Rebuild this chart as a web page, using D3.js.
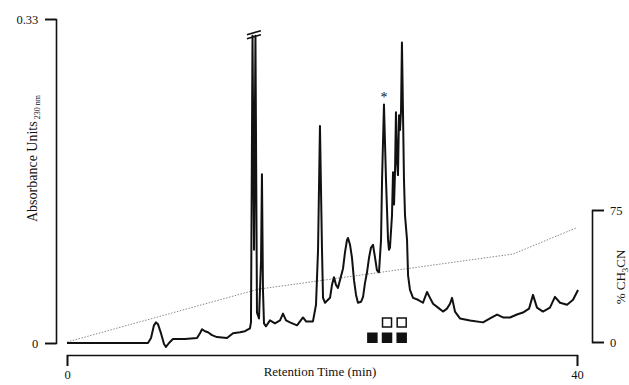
<!DOCTYPE html>
<html lang='en'>
<head>
  <title>RP-HPLC Chromatogram</title>
  <script src='https://cdn.jsdelivr.net/npm/d3@7/dist/d3.min.js'></script>
  <style>
    body { margin: 0; background: #fff; }
    text { font-family: "Liberation Serif", "DejaVu Serif", serif; fill: #111; }
  </style>
</head>
<body>
  <script>
    // retention time (min) and absorbance (AU at 230 nm)
    let times = [0, 6.35, 6.59, 6.82, 6.98, 7.14, 7.37, 7.61, 7.76, 8.0, 8.31, 9.25, 10.2, 10.43, 10.59, 10.82,
      11.06, 11.37, 11.76, 12.55, 13.02, 13.57, 13.96, 14.35, 14.43, 14.55, 14.67, 14.78, 14.9, 15.06, 15.22,
      15.29, 15.37, 15.45, 15.61, 15.92, 16.31, 16.71, 16.94, 17.18, 17.49, 18.04, 18.51, 18.75, 19.29, 19.53,
      19.69, 19.84, 20.0, 20.08, 20.24, 20.47, 20.63, 20.78, 20.94, 21.1, 21.25, 21.49, 21.65, 21.8, 21.96,
      22.04, 22.2, 22.35, 22.51, 22.67, 22.82, 23.06, 23.22, 23.37, 23.53, 23.69, 23.84, 24.0, 24.16, 24.31,
      24.47, 24.63, 24.71, 24.86, 25.02, 25.18, 25.25, 25.33, 25.49, 25.57, 25.65, 25.73, 25.8, 25.88, 25.96,
      26.04, 26.12, 26.2, 26.27, 26.35, 26.43, 26.51, 26.67, 26.75, 26.9, 27.14, 27.53, 27.92, 28.24, 28.47,
      28.71, 29.1, 29.49, 29.8, 30.04, 30.2, 30.43, 30.82, 31.61, 32.63, 33.18, 33.73, 34.2, 34.75, 35.29,
      35.76, 36.24, 36.55, 36.86, 37.33, 37.88, 38.27, 38.67, 39.22, 39.69, 40.08];
    let absorbance = [0, 0, 0.005, 0.018, 0.021, 0.019, 0.010, -0.001, -0.004, 0, 0.004, 0.004, 0.005, 0.010, 0.014, 0.012,
      0.011, 0.008, 0.006, 0.005, 0.010, 0.011, 0.012, 0.015, 0.021, 0.313, 0.095, 0.313, 0.031, 0.025, 0.085,
      0.172, 0.054, 0.020, 0.017, 0.023, 0.020, 0.023, 0.030, 0.023, 0.021, 0.018, 0.026, 0.022, 0.022, 0.039,
      0.095, 0.221, 0.095, 0.046, 0.041, 0.044, 0.046, 0.059, 0.067, 0.059, 0.056, 0.068, 0.076, 0.092, 0.105,
      0.107, 0.100, 0.087, 0.064, 0.049, 0.041, 0.042, 0.047, 0.061, 0.072, 0.087, 0.097, 0.100, 0.087, 0.074,
      0.072, 0.105, 0.166, 0.243, 0.166, 0.105, 0.095, 0.097, 0.130, 0.174, 0.141, 0.176, 0.235, 0.186, 0.171,
      0.232, 0.217, 0.237, 0.306, 0.237, 0.166, 0.130, 0.105, 0.069, 0.054, 0.046, 0.044, 0.041, 0.052, 0.046,
      0.040, 0.036, 0.032, 0.035, 0.040, 0.046, 0.032, 0.025, 0.023, 0.021, 0.025, 0.029, 0.026, 0.026, 0.029,
      0.031, 0.035, 0.049, 0.036, 0.032, 0.036, 0.047, 0.041, 0.039, 0.044, 0.054];

    // acetonitrile gradient (dotted line, right axis)
    let gradientTimes = [0, 15, 35, 40];
    let gradientPct = [0, 30, 50, 65];

    // axis ticks
    let xTicks = [0, 40];
    let yTicks = [0, 0.33];
    let pctTicks = [0, 75];

    // fraction markers under the main peaks
    let filledMarkers = [23.95, 25.1, 26.25];
    let openMarkers = [25.1, 26.25];
    let starPeak = { time: 24.86, value: 0.243 };
    let brokenPeak = { time: 14.66, value: 0.313 };

    createChromatogram();

    function createChromatogram() {
      let svg = d3.select("body").append("svg")
        .attr("width", 629)
        .attr("height", 385);

      let xScale = d3.scaleLinear().domain([0, 40]).range([67, 577]);
      let yScale = d3.scaleLinear().domain([0, 0.33]).range([343, 19]);
      let pctScale = d3.scaleLinear().domain([0, 75]).range([342, 210]);

      let trace = times.map((t, i) => ({ t: t, a: absorbance[i] }));
      let gradient = gradientTimes.map((t, i) => ({ t: t, p: gradientPct[i] }));

      // gradient line
      svg.append("path")
        .attr("d", d3.line().x(d => xScale(d.t)).y(d => pctScale(d.p))(gradient))
        .attr("fill", "none")
        .attr("stroke", "#8a8a8a")
        .attr("stroke-width", 1)
        .attr("stroke-dasharray", "1.5,1.5");

      // chromatogram trace
      svg.append("path")
        .attr("d", d3.line().x(d => xScale(d.t)).y(d => yScale(d.a))(trace))
        .attr("fill", "none")
        .attr("stroke", "#111")
        .attr("stroke-width", 2)
        .attr("stroke-linejoin", "round");

      // break mark on the off-scale peak
      let bx = xScale(brokenPeak.time), by = yScale(brokenPeak.value);
      [-3, 1].forEach(dy => {
        svg.append("line")
          .attr("x1", bx - 7).attr("y1", by + dy + 2)
          .attr("x2", bx + 7).attr("y2", by + dy - 2)
          .attr("stroke", "#111").attr("stroke-width", 1.6);
      });

      // asterisk over the marked peak
      svg.append("text")
        .attr("x", xScale(starPeak.time))
        .attr("y", yScale(starPeak.value) - 2)
        .attr("text-anchor", "middle")
        .attr("font-size", 14)
        .text("*");

      // markers
      let size = 10.5;
      svg.selectAll(".filled").data(filledMarkers).join("rect")
        .attr("class", "filled")
        .attr("x", d => xScale(d) - size / 2)
        .attr("y", 332.5)
        .attr("width", size).attr("height", size)
        .attr("fill", "#111");
      svg.selectAll(".open").data(openMarkers).join("rect")
        .attr("class", "open")
        .attr("x", d => xScale(d) - size / 2 + 0.75)
        .attr("y", 318)
        .attr("width", size - 1.5).attr("height", size - 1.5)
        .attr("fill", "#fff")
        .attr("stroke", "#111")
        .attr("stroke-width", 1.5);

      // left axis
      let yAxis = d3.axisLeft(yScale)
        .tickValues(yTicks)
        .tickSize(11)
        .tickFormat(d => d === 0 ? "0" : d3.format(".2f")(d));
      let yAxisG = svg.append("g")
        .attr("transform", "translate(56, 0)")
        .call(yAxis);

      // x axis sits below the baseline
      let xAxis = d3.axisBottom(xScale)
        .tickValues(xTicks)
        .tickSize(11)
        .tickPadding(4);
      let xAxisG = svg.append("g")
        .attr("transform", "translate(0, 355)")
        .call(xAxis);

      // right axis (% acetonitrile)
      let pctAxis = d3.axisRight(pctScale)
        .tickValues(pctTicks)
        .tickSize(12)
        .tickPadding(6);
      let pctAxisG = svg.append("g")
        .attr("transform", "translate(592, 0)")
        .call(pctAxis);

      [yAxisG, xAxisG, pctAxisG].forEach(g => {
        g.selectAll("path, line").attr("stroke", "#111").attr("stroke-width", 1.6);
        g.selectAll("text")
          .attr("font-size", 12.5)
          .style("font-family", "'Liberation Serif', serif")
          .attr("fill", "#111");
      });
      yAxisG.selectAll("text").attr("dx", "-0.3em");

      // axis titles
      let yLabel = svg.append("text")
        .attr("transform", "translate(37, 222) rotate(-90)")
        .attr("text-anchor", "start")
        .attr("font-size", 14);
      yLabel.append("tspan").text("Absorbance Units");
      yLabel.append("tspan").attr("font-size", 8).attr("dy", 3).text(" 230 nm");

      svg.append("text")
        .attr("x", 320)
        .attr("y", 376)
        .attr("text-anchor", "middle")
        .attr("font-size", 13)
        .text("Retention Time (min)");

      let pctLabel = svg.append("text")
        .attr("transform", "translate(625, 277) rotate(-90)")
        .attr("text-anchor", "middle")
        .attr("font-size", 13);
      pctLabel.append("tspan").text("% CH");
      pctLabel.append("tspan").attr("font-size", 9).attr("dy", 3).text("3");
      pctLabel.append("tspan").attr("dy", -3).text("CN");
    }
  </script>
</body>
</html>
